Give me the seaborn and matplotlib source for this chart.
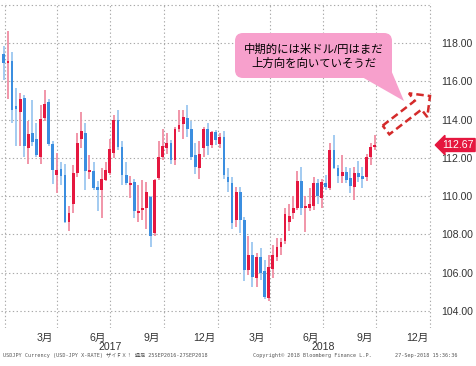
import pandas as pd
import matplotlib
matplotlib.use("Agg")
import matplotlib.pyplot as plt
import matplotlib.dates as mdates
from matplotlib.patches import FancyBboxPatch, Polygon
from matplotlib.transforms import IdentityTransform
import numpy as np
import seaborn as sns

# weekly USD/JPY candles (week ending Friday)
week_end = pd.date_range("2016-12-30", "2018-09-28", freq="W-FRI")
open_ = [117.45, 116.95, 117.05, 114.70, 114.40, 115.15, 112.50, 113.30, 113.00, 112.05,
         114.07, 114.90, 112.70, 111.10, 111.40, 111.10, 108.66, 109.60, 111.20, 113.00,
         113.30, 111.25, 111.33, 110.50, 110.30, 110.85, 111.20, 112.24, 114.00, 112.55,
         111.10, 110.60, 110.75, 109.10, 109.25, 109.36, 109.97, 108.06, 110.93, 112.06,
         112.50, 112.80, 111.90, 113.50, 113.77, 114.07, 113.50, 112.15, 111.46, 112.50,
         113.50, 112.67, 113.37, 112.72, 113.10, 111.00, 110.67, 108.75, 110.20, 108.75,
         106.14, 106.90, 105.70, 106.80, 106.10, 104.66, 106.20, 106.80, 107.35, 107.67,
         108.66, 109.10, 109.40, 110.80, 109.40, 109.40, 109.50, 110.70, 109.90, 110.70,
         110.40, 112.40, 111.45, 111.05, 111.25, 110.95, 110.50, 111.20, 111.05, 111.00,
         112.06, 112.58]
high = [117.85, 118.62, 117.55, 115.65, 115.40, 115.30, 113.90, 115.00, 113.80, 114.76,
        115.55, 115.05, 112.90, 112.25, 111.80, 111.70, 109.50, 111.60, 113.30, 114.40,
        113.80, 112.15, 111.80, 110.80, 111.45, 111.80, 112.97, 114.24, 114.50, 112.90,
        111.80, 111.05, 110.90, 110.60, 110.84, 110.75, 110.00, 110.90, 112.90, 113.50,
        113.30, 112.95, 113.60, 114.50, 114.50, 114.76, 113.90, 112.76, 112.90, 113.60,
        113.80, 113.40, 113.45, 113.28, 113.40, 111.45, 111.00, 110.50, 110.50, 108.90,
        107.90, 107.60, 107.05, 107.30, 106.66, 106.95, 107.45, 107.80, 107.80, 109.40,
        109.60, 110.00, 111.30, 111.50, 110.00, 110.40, 111.00, 110.90, 110.90, 111.10,
        112.80, 113.20, 111.60, 112.15, 111.50, 111.45, 111.50, 111.85, 111.50, 112.20,
        112.76, 113.20]
low = [116.05, 115.10, 113.80, 112.60, 112.60, 112.06, 111.70, 112.60, 112.06, 111.70,
       113.90, 112.60, 110.65, 110.15, 110.60, 108.60, 108.20, 109.10, 111.00, 112.50,
       110.30, 110.90, 110.30, 109.20, 108.85, 110.80, 111.10, 111.98, 112.40, 110.60,
       110.60, 109.90, 108.85, 108.66, 108.75, 108.30, 107.36, 107.90, 110.85, 111.90,
       112.20, 111.70, 111.65, 113.35, 113.00, 113.10, 111.90, 111.15, 110.90, 112.06,
       112.15, 112.50, 112.65, 112.50, 110.90, 110.20, 108.30, 108.40, 108.05, 105.55,
       105.90, 105.25, 105.25, 105.60, 104.62, 104.50, 105.70, 106.60, 106.90, 107.50,
       108.20, 108.80, 109.30, 109.00, 108.10, 109.20, 109.30, 109.60, 109.40, 110.30,
       110.30, 111.40, 110.67, 110.70, 110.70, 110.15, 109.80, 110.75, 110.40, 110.80,
       111.65, 112.40]
close = [116.96, 117.05, 114.50, 114.55, 115.10, 112.60, 113.25, 112.85, 112.15, 114.05,
         114.80, 112.72, 111.37, 111.35, 111.05, 108.66, 109.10, 111.20, 112.80, 113.40,
         111.30, 111.35, 110.40, 110.30, 110.90, 111.36, 112.45, 113.98, 112.55, 111.10,
         110.70, 110.70, 109.20, 109.20, 109.40, 110.20, 107.90, 110.84, 112.06, 112.60,
         112.80, 111.90, 113.50, 113.70, 114.15, 113.50, 112.06, 111.54, 112.20, 113.50,
         112.60, 113.37, 112.93, 113.10, 111.10, 110.75, 108.60, 110.20, 108.75, 106.14,
         106.90, 105.75, 106.80, 105.97, 104.75, 106.30, 106.90, 107.35, 107.60, 109.06,
         108.96, 109.40, 110.80, 109.40, 109.50, 109.57, 110.70, 110.00, 110.75, 110.50,
         112.40, 111.45, 111.05, 111.25, 110.85, 110.55, 111.20, 110.98, 110.90, 112.06,
         112.58, 112.67]

price_ticks = [104, 106, 108, 110, 112, 114, 116, 118]
grid_prices = [104, 106, 108, 110, 112, 114, 116, 118, 120]
quarter_lines = pd.date_range("2017-01-01", "2019-01-01", freq="QS")
month_ticks = pd.to_datetime(["2017-03-10", "2017-06-10", "2017-09-10", "2017-12-10",
                              "2018-03-10", "2018-06-10", "2018-09-10", "2018-12-10"])
month_labels = ["3月", "6月", "9月", "12月", "3月", "6月", "9月", "12月"]
year_pos = pd.to_datetime(["2017-07-01", "2018-07-01"])
year_labels = ["2017", "2018"]
last_price = 112.67
note = "中期的には米ドル/円はまだ\n上方向を向いていそうだ"
footer_left = "USDJPY Currency (USD-JPY X-RATE) ザイＦＸ！ 週足 25SEP2016-27SEP2018"
footer_mid = "Copyright© 2018 Bloomberg Finance L.P."
footer_right = "27-Sep-2018 15:36:36"

UP, DOWN = "#e5173f", "#3b8ee0"
UP_WICK, DOWN_WICK = "#f08ea3", "#9cc7f0"
PINK = "#f7a0cc"

sns.set_theme(style="white")
plt.rcParams["font.family"] = ["Liberation Sans", "Noto Sans CJK JP"]

W, H = 477, 366
fig = plt.figure(figsize=(W / 100, H / 100), dpi=100)
fig.patch.set_facecolor("white")
ax = fig.add_axes([1 / W, (H - 328) / H, 431 / W, 325 / H])
ax.set_facecolor("white")

df = pd.DataFrame({"week": week_end, "open": open_, "high": high, "low": low, "close": close})
df["x"] = mdates.date2num(df["week"])
df["up"] = df["close"] >= df["open"]
df["bottom"] = df[["open", "close"]].min(axis=1)
df["body"] = (df["close"] - df["open"]).abs().clip(lower=0.07)

# grid
dot = (0, (1.2, 2.2))
for p in grid_prices:
    ax.axhline(p, color="#a9a9a9", lw=0.8, ls=dot, zorder=0)
for q in quarter_lines:
    ax.axvline(mdates.date2num(q), color="#a9a9a9", lw=0.8, ls=dot, zorder=0)

# candles
ax.vlines(df["x"], df["low"], df["high"],
          colors=np.where(df["up"], UP_WICK, DOWN_WICK), lw=1.3, zorder=2)
ax.bar(df["x"], df["body"], bottom=df["bottom"], width=4.8,
       color=np.where(df["up"], UP, DOWN), linewidth=0, zorder=3)

ax.set_xlim(mdates.date2num(pd.Timestamp("2017-01-01")) - 6.9,
            mdates.date2num(pd.Timestamp("2019-01-01")) + 3.4)
ax.set_ylim(103.11, 120.09)
sns.despine(ax=ax, left=True, bottom=True)

ax.yaxis.tick_right()
ax.set_yticks(price_ticks)
ax.set_yticklabels([f"{p:.2f}" for p in price_ticks])
ax.set_xticks(mdates.date2num(month_ticks))
ax.set_xticklabels(month_labels)
ax.tick_params(axis="y", length=0, pad=6.5, labelsize=7.6, labelcolor="#333333")
ax.tick_params(axis="x", length=0, pad=3.2, labelsize=7.6, labelcolor="#333333")
for xp, lab in zip(year_pos, year_labels):
    ax.text(mdates.date2num(xp), -0.058, lab, transform=ax.get_xaxis_transform(),
            ha="center", va="center", fontsize=7.6, color="#333333")

# last price tag
ax.text(1.0235, last_price, f"{last_price:.2f}", transform=ax.get_yaxis_transform(),
        ha="left", va="center", fontsize=7.6, color="white",
        bbox=dict(boxstyle="larrow,pad=0.14", fc=UP, ec=UP))

# callout
def px(x, y):
    return (x, H - y)

ident = IdentityTransform()
box = FancyBboxPatch(px(235, 78), 157, 45, boxstyle="round,pad=0,rounding_size=8",
                     fc=PINK, ec="none", transform=ident, zorder=5)
fig.add_artist(box)
fig.add_artist(Polygon([px(362, 77), px(391, 70), px(404, 101)], closed=True,
                       fc=PINK, ec="none", transform=ident, zorder=5))
fig.text(314 / W, 1 - 56.5 / H, note, ha="center", va="center", fontsize=8.2,
         linespacing=1.35, color="black", zorder=6)

# dashed outline arrow
tail = np.array([386.0, 130.0])
tip = np.array([430.0, 96.0])
u = (tip - tail) / np.linalg.norm(tip - tail)
n = np.array([-u[1], u[0]])
base = tip - 15 * u
shape = [tail - 5.5 * n, base - 5.5 * n, base - 15 * n, tip,
         base + 15 * n, base + 5.5 * n, tail + 5.5 * n]
fig.add_artist(Polygon([px(*p) for p in shape], closed=True, fill=False,
                       ec="#d42a2a", lw=1.8, ls=(0, (3.0, 1.6)),
                       transform=ident, zorder=6))

# footer
foot = dict(fontsize=3.7, color="#555555", va="center",
            family=["DejaVu Sans Mono", "Noto Sans CJK JP"])
fig.text(3 / W, 1 - 355.5 / H, footer_left, ha="left", **foot)
fig.text(253 / W, 1 - 355.5 / H, footer_mid, ha="left", **foot)
fig.text(458 / W, 1 - 355.5 / H, footer_right, ha="right", **foot)

fig.savefig("out.png", dpi=100)
